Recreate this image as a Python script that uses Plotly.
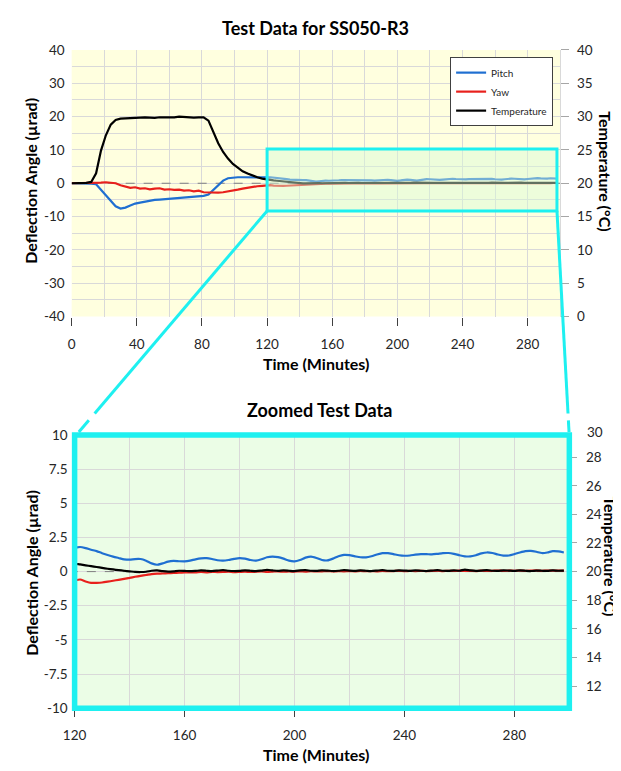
import plotly.graph_objects as go

# ---------------- data ----------------
time_min = [0, 3, 6, 9, 12, 15, 18, 21, 24, 27, 30, 33, 36, 39, 42, 45, 48, 51, 54, 57,
            60, 63, 66, 69, 72, 75, 78, 81, 84, 87, 90, 93, 96, 99, 102, 105, 108, 111, 114, 117,
            120, 122, 124, 126, 128, 130, 132, 134, 136, 138, 140, 142, 144, 146, 148, 150,
            152, 154, 156, 158, 160, 162, 164, 166, 168, 170, 172, 174, 176, 178, 180, 182,
            184, 186, 188, 190, 192, 194, 196, 198, 200, 202, 204, 206, 208, 210, 212, 214,
            216, 218, 220, 222, 224, 226, 228, 230, 232, 234, 236, 238, 240, 242, 244, 246,
            248, 250, 252, 254, 256, 258, 260, 262, 264, 266, 268, 270, 272, 274, 276, 278,
            280, 282, 284, 286, 288, 290, 292, 294, 296, 298]

pitch_urad = [0.0, 0.0, 0.0, -0.1, -0.1, -0.3, -1.9, -3.6, -5.3, -6.9, -7.6, -7.3, -6.7, -6.1,
              -5.8, -5.5, -5.2, -5.0, -4.9, -4.8, -4.6, -4.5, -4.3, -4.2, -4.1, -4.0, -3.9, -3.8,
              -3.4, -2.0, -0.5, 0.8, 1.5, 1.7, 1.8, 1.8, 1.75, 1.8, 1.75, 1.75,
              1.75, 1.8, 1.72, 1.6, 1.5, 1.35, 1.22, 1.1, 1.0, 0.9, 0.87, 0.92, 0.92, 0.8, 0.6,
              0.5, 0.6, 0.73, 0.78, 0.76, 0.75, 0.8, 0.9, 0.97, 0.98, 0.92, 0.83, 0.8, 0.85,
              0.93, 0.99, 0.95, 0.85, 0.8, 0.9, 1.05, 1.1, 1.06, 0.95, 0.8, 0.75, 0.85, 1.02,
              1.1, 1.0, 0.85, 0.82, 0.95, 1.12, 1.22, 1.2, 1.12, 1.05, 1.04, 1.12, 1.25, 1.35,
              1.35, 1.28, 1.2, 1.16, 1.18, 1.24, 1.28, 1.28, 1.26, 1.3, 1.35, 1.36, 1.3, 1.2,
              1.12, 1.11, 1.2, 1.33, 1.4, 1.36, 1.25, 1.17, 1.18, 1.28, 1.4, 1.5, 1.52, 1.45,
              1.36, 1.4, 1.5, 1.48, 1.4]

yaw_urad = [0.0, 0.0, 0.0, 0.0, 0.0, 0.1, 0.2, 0.3, 0.1, 0.0, -0.6, -1.0, -1.4, -1.2, -1.6,
            -1.5, -1.8, -1.6, -1.5, -1.9, -1.8, -2.0, -1.9, -2.2, -2.1, -2.4, -2.2, -2.7, -2.8,
            -2.9, -2.8, -2.7, -2.5, -2.2, -1.9, -1.6, -1.3, -1.1, -0.9, -0.8,
            -0.65, -0.58, -0.72, -0.82, -0.82, -0.8, -0.74, -0.67, -0.6, -0.53, -0.46, -0.38,
            -0.31, -0.25, -0.18, -0.15, -0.14, -0.12, -0.1, -0.08, -0.06, -0.05, -0.06, -0.03,
            -0.05, -0.02, -0.04, -0.03, -0.01, -0.04, -0.02, 0.0, -0.03, -0.01, 0.01, -0.02,
            0.0, 0.02, -0.01, 0.01, 0.0, 0.02, 0.0, 0.03, 0.01, 0.02, 0.04, 0.01, 0.03, 0.02,
            0.04, 0.02, 0.05, 0.03, 0.04, 0.02, 0.05, 0.03, 0.04, 0.06, 0.03, 0.05, 0.04, 0.06,
            0.04, 0.05, 0.07, 0.04, 0.06, 0.05, 0.07, 0.05, 0.06, 0.04, 0.07, 0.05, 0.06, 0.08,
            0.05, 0.07, 0.06, 0.08, 0.06, 0.07, 0.09, 0.06, 0.08, 0.07, 0.08, 0.07]

temperature_c = [20.0, 20.0, 20.0, 20.05, 20.2, 21.5, 24.9, 27.2, 28.8, 29.5, 29.7, 29.75, 29.8,
                 29.9, 29.85, 29.9, 29.85, 29.8, 29.9, 29.9, 29.85, 29.9, 30.0, 29.95, 29.8,
                 29.85, 29.9, 29.9, 29.4, 27.6, 26.0, 24.7, 23.7, 22.9, 22.3, 21.8, 21.45,
                 21.15, 20.9, 20.7,
                 20.55, 20.5, 20.44, 20.38, 20.32, 20.26, 20.2, 20.15, 20.1, 20.06, 20.02, 19.98,
                 19.97, 19.99, 20.06, 20.08, 20.03, 20.0, 20.02, 20.06, 20.05, 20.03, 20.05,
                 20.08, 20.06, 20.04, 20.07, 20.1, 20.06, 20.04, 20.05, 20.09, 20.06, 20.03,
                 20.07, 20.12, 20.08, 20.05, 20.08, 20.06, 20.04, 20.08, 20.1, 20.06, 20.05,
                 20.09, 20.07, 20.04, 20.06, 20.1, 20.07, 20.05, 20.08, 20.06, 20.04, 20.07,
                 20.1, 20.06, 20.05, 20.08, 20.07, 20.05, 20.09, 20.06, 20.04, 20.07, 20.1,
                 20.06, 20.05, 20.09, 20.06, 20.14, 20.08, 20.05, 20.07, 20.1, 20.06, 20.05,
                 20.09, 20.07, 20.05, 20.08, 20.06, 20.04, 20.07, 20.06, 20.05, 20.08, 20.06,
                 20.07]

series_names = ["Pitch", "Yaw", "Temperature"]
series_colors = ["#1f6fd1", "#e8201c", "#000000"]

top_title = "Test Data for SS050-R3"
bottom_title = "Zoomed Test Data"
x_title = "Time (Minutes)"
y_left_title = "Deflection Angle (µrad)"
y_right_title = "Temperature (°C)"

top_x_ticks = [0, 40, 80, 120, 160, 200, 240, 280]
top_left_ticks = [-40, -30, -20, -10, 0, 10, 20, 30, 40]
top_left_ticktext = ["-40", "-30", "-20", "-10", "0", "10", "20", "30", "40"]
top_right_ticks = [0, 5, 10, 15, 20, 25, 30, 35, 40]
bottom_x_ticks = [120, 160, 200, 240, 280]
bottom_left_ticks = [-10, -7.5, -5, -2.5, 0, 2.5, 5, 7.5, 10]
bottom_left_ticktext = ["-10", "-7.5", "-5", "-2.5", "0", "2.5", "5", "7.5", "10"]
bottom_right_ticks = [12, 14, 16, 18, 20, 22, 24, 26, 28]
zero_ref = [0, 0]
zero_ref_x = [0, 300]

# ---------------- layout helpers ----------------
# the page body has an 8px margin, so the figure is drawn 8px in from the window corner
OFF = 8
WIN_W, WIN_H = 621, 771
W, H = WIN_W - OFF, WIN_H - OFF
FONT = "Lato, 'Open Sans', sans-serif"
TICK_COLOR = "#262626"
GRID = "#d9d9d9"
CYAN = "#1ef0f0"


def px(x):
    return (x - OFF) / W


def py(y):
    return 1 - (y - OFF) / H


top_dom_x = [px(60.7), px(559)]
top_dom_y = [py(315), py(42.7)]
bot_dom_x = [px(63.7), px(568.3)]
bot_dom_y = [py(715), py(436)]

fig = go.Figure()

# zero reference lines (dashed)
fig.add_trace(go.Scatter(x=zero_ref_x, y=zero_ref, mode="lines", showlegend=False,
                         hoverinfo="skip", line=dict(color="#7f7f7f", width=1, dash="dash"),
                         xaxis="x", yaxis="y"))
fig.add_trace(go.Scatter(x=zero_ref_x, y=zero_ref, mode="lines", showlegend=False,
                         hoverinfo="skip", line=dict(color="#7f7f7f", width=1, dash="dash"),
                         xaxis="x2", yaxis="y3"))

# top chart traces
ys = [pitch_urad, yaw_urad]
for name, col, vals in zip(series_names[:2], series_colors[:2], ys):
    fig.add_trace(go.Scatter(x=time_min, y=vals, name=name, mode="lines",
                             line=dict(color=col, width=2.2), xaxis="x", yaxis="y"))
fig.add_trace(go.Scatter(x=time_min, y=temperature_c, name=series_names[2], mode="lines",
                         line=dict(color=series_colors[2], width=2.2), xaxis="x", yaxis="y2"))

# bottom chart traces
for name, col, vals in zip(series_names[:2], series_colors[:2], ys):
    fig.add_trace(go.Scatter(x=time_min, y=vals, name=name, mode="lines", showlegend=False,
                             line=dict(color=col, width=2.2, shape="spline", smoothing=0.6),
                             xaxis="x2", yaxis="y3"))
fig.add_trace(go.Scatter(x=time_min, y=temperature_c, name=series_names[2], mode="lines",
                         showlegend=False,
                         line=dict(color=series_colors[2], width=2.2, shape="spline", smoothing=0.6),
                         xaxis="x2", yaxis="y4"))

tickfont = dict(family=FONT, size=13.5, color=TICK_COLOR)

fig.update_layout(
    width=W, height=H,
    margin=dict(l=0, r=0, t=0, b=0),
    paper_bgcolor="white",
    plot_bgcolor="rgba(0,0,0,0)",
    font=dict(family=FONT, color=TICK_COLOR),
    showlegend=True,
    legend=dict(x=px(446.7), y=py(50), xanchor="left", yanchor="top",
                bgcolor="white", bordercolor="#404040", borderwidth=1,
                font=dict(family=FONT, size=10, color="#262626"),
                tracegroupgap=0),
    xaxis=dict(domain=top_dom_x, anchor="y", range=[0, 300], tickvals=top_x_ticks,
               ticks="outside", ticklen=8, tickcolor="#404040", tickwidth=1,
               showgrid=True, gridcolor=GRID, gridwidth=1,
               minor=dict(dtick=20, tick0=0, showgrid=True, gridcolor=GRID),
               zeroline=False, showline=False, tickfont=tickfont, ticklabelstandoff=7,
               fixedrange=True),
    yaxis=dict(domain=top_dom_y, anchor="x", range=[-40, 40], tickvals=top_left_ticks,
               ticktext=top_left_ticktext,
               showgrid=True, gridcolor=GRID, gridwidth=1,
               minor=dict(dtick=5, tick0=0, showgrid=True, gridcolor=GRID),
               zeroline=False, ticks="", tickfont=tickfont, ticklabelstandoff=6),
    yaxis2=dict(overlaying="y", side="right", anchor="x", range=[0, 40], tickvals=top_right_ticks,
                showgrid=False, zeroline=False, ticks="outside", ticklen=8,
                tickcolor="#a6a6a6", showline=True, linecolor=GRID,
                tickfont=tickfont, ticklabelstandoff=5),
    xaxis2=dict(domain=bot_dom_x, anchor="y3", range=[120, 300], tickvals=bottom_x_ticks,
                ticks="outside", ticklen=8, tickcolor="#404040", tickwidth=1,
                showgrid=True, gridcolor=GRID, gridwidth=1,
                minor=dict(dtick=20, tick0=0, showgrid=True, gridcolor=GRID),
                zeroline=False, showline=False, tickfont=tickfont, ticklabelstandoff=7),
    yaxis3=dict(domain=bot_dom_y, anchor="x2", range=[-10, 10], tickvals=bottom_left_ticks,
                ticktext=bottom_left_ticktext, showgrid=True, gridcolor=GRID, gridwidth=1,
                zeroline=False, ticks="", tickfont=tickfont, ticklabelstandoff=6),
    yaxis4=dict(overlaying="y3", side="right", anchor="x2", range=[10.45, 29.55],
                tickvals=bottom_right_ticks, showgrid=False, zeroline=False, ticks="outside",
                ticklen=7, tickcolor="#a6a6a6", tickfont=tickfont, ticklabelstandoff=6),
)

shapes = []
# plot backgrounds
shapes.append(dict(type="rect", xref="x domain", yref="y domain", x0=0, x1=1, y0=0, y1=1,
                   fillcolor="#ffffdf", line=dict(width=0), layer="below"))
shapes.append(dict(type="rect", xref="x2 domain", yref="y3 domain", x0=0, x1=1, y0=0, y1=1,
                   fillcolor="#ebfde6", line=dict(width=0), layer="below"))
# zoom box on top chart
box_x0, box_x1, box_y0, box_y1 = 120, 298, -8.3, 10.3
shapes.append(dict(type="rect", xref="x", yref="y", x0=box_x0, x1=box_x1, y0=box_y0, y1=box_y1,
                   fillcolor="rgba(215,250,215,0.45)", line=dict(color=CYAN, width=3),
                   layer="above"))
# frame around zoomed chart
shapes.append(dict(type="rect", xref="paper", yref="paper",
                   x0=bot_dom_x[0], x1=bot_dom_x[1], y0=bot_dom_y[0], y1=bot_dom_y[1],
                   line=dict(color=CYAN, width=5.5), layer="above"))


# connector lines (paper coordinates, from box corners to frame corners, with a small gap)
def top_to_paper(x, y):
    fx = top_dom_x[0] + (x - 0) / 300 * (top_dom_x[1] - top_dom_x[0])
    fy = top_dom_y[0] + (y + 40) / 80 * (top_dom_y[1] - top_dom_y[0])
    return fx, fy


lx0, ly0 = top_to_paper(box_x0, box_y0)
rx0, ry0 = top_to_paper(box_x1, box_y0)
lx1, ly1 = px(68), py(433)
rx1, ry1 = px(568), py(433)
gap_top, gap_bot = py(414), py(421)
for (ax, ay, bx, by) in [(lx0, ly0, lx1, ly1), (rx0, ry0, rx1, ry1)]:
    def at(yv, ax=ax, ay=ay, bx=bx, by=by):
        t = (yv - ay) / (by - ay)
        return ax + t * (bx - ax)
    shapes.append(dict(type="line", xref="paper", yref="paper", x0=ax, y0=ay,
                       x1=at(gap_top), y1=gap_top, line=dict(color=CYAN, width=3), layer="above"))
    shapes.append(dict(type="line", xref="paper", yref="paper", x0=at(gap_bot), y0=gap_bot,
                       x1=bx, y1=by, line=dict(color=CYAN, width=3), layer="above"))

fig.update_layout(shapes=shapes)

title_font = dict(family=FONT, size=18, color="#000000")
axt_font = dict(family=FONT, size=16, color="#000000")
annotations = [
    dict(text=f"<b>{top_title}</b>", x=px(309), y=py(20), font=title_font),
    dict(text=f"<b>{bottom_title}</b>", x=px(313), y=py(410), font=title_font),
    dict(text=f"<b>{x_title}</b>", x=px(310), y=py(362.5), font=axt_font),
    dict(text=f"<b>{x_title}</b>", x=px(310), y=py(762), font=axt_font),
    dict(text=f"<b>{y_left_title}</b>", x=px(19), y=py(176.5), textangle=-90, font=axt_font),
    dict(text=f"<b>{y_left_title}</b>", x=px(19), y=py(577), textangle=-90, font=axt_font),
    dict(text=f"<b>{y_right_title}</b>", x=px(605), y=py(167), textangle=90, font=axt_font),
    dict(text=f"<b>{y_right_title}</b>", x=px(610), y=py(560), textangle=90, font=axt_font),
    dict(text="30", x=px(584), y=py(433), xanchor="left", font=tickfont),
]
for a in annotations:
    a.setdefault("xref", "paper")
    a.setdefault("yref", "paper")
    a.setdefault("showarrow", False)
    a.setdefault("xanchor", "center")
    a.setdefault("yanchor", "middle")
fig.update_layout(annotations=annotations)

fig.write_html("out.html")
